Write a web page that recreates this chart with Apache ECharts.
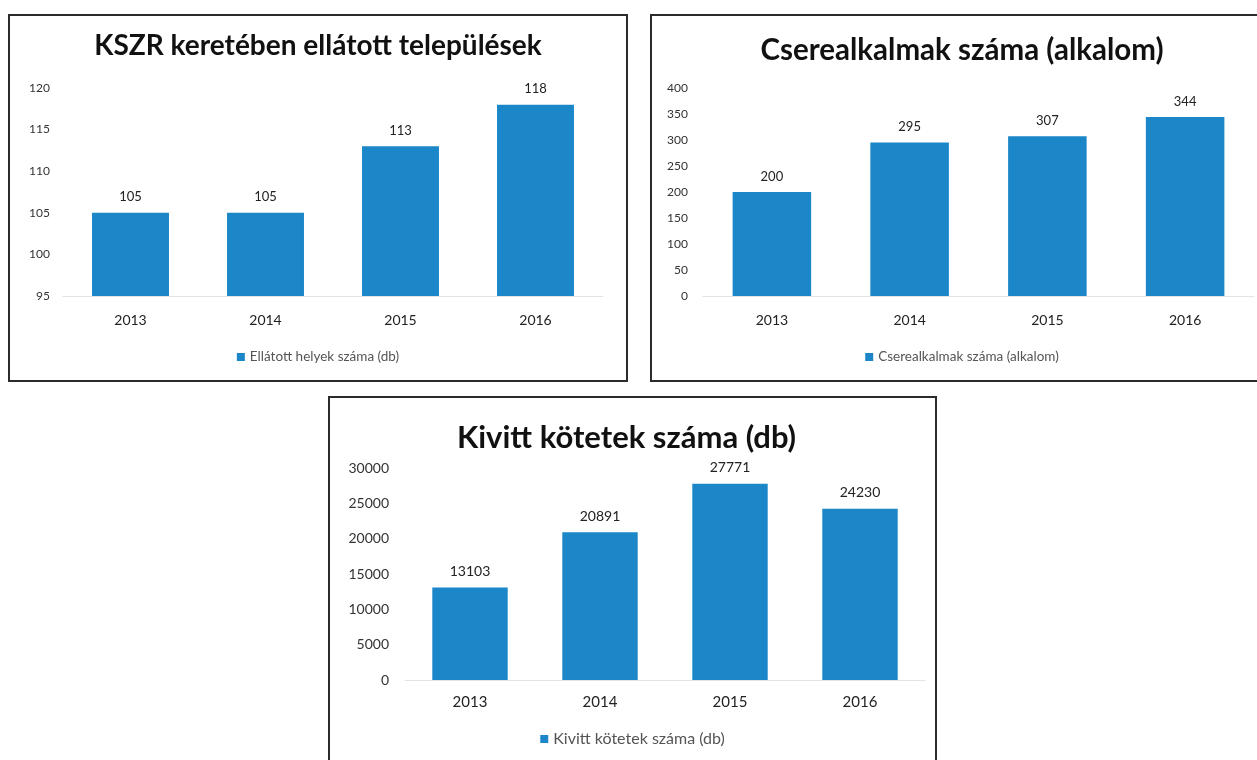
<!DOCTYPE html>
<html>
<head>
<meta charset="utf-8">
<script src="https://cdn.jsdelivr.net/npm/echarts@6/dist/echarts.min.js"></script>
<style>
  html, body { margin: 0; padding: 0; background: #fff; overflow: hidden; width: 1257px; height: 760px; }
  .box { position: absolute; border: 2px solid #2b2b2b; box-sizing: border-box; background: #fff; }
  .pic { position: absolute; left: 0; top: 0; width: 100%; height: 100%; }
</style>
</head>
<body>
<div class="box" style="left:8px;top:14px;width:620px;height:368px"><div id="c1" class="pic"></div></div>
<div class="box" style="left:650px;top:14px;width:624px;height:368px"><div id="c2" class="pic"></div></div>
<div class="box" style="left:328px;top:396px;width:609px;height:384px"><div id="c3" class="pic"></div></div>
<script>
// data
const years = ['2013', '2014', '2015', '2016']

const telepulesek = [105, 105, 113, 118]
const csere = [200, 295, 307, 344]
const kotetek = [13103, 20891, 27771, 24230]

const axis1 = { min: 95, max: 120, interval: 5 }
const axis2 = { min: 0, max: 400, interval: 50 }
const axis3 = { min: 0, max: 30000, interval: 5000 }

const BLUE = '#1b87c9'
const FONT = 'Lato'

function makeChart (id, title, name, values, ax, lay) {
  const chart = echarts.init(document.getElementById(id))
  chart.setOption({
    animation: false,
    title: {
      text: title,
      left: lay.titleLeft || 'center',
      top: lay.titleTop,
      textStyle: { fontFamily: FONT, fontWeight: 'bold', fontSize: lay.titleSize, color: '#111' }
    },
    legend: {
      data: [name],
      left: 'center',
      top: lay.legendTop,
      icon: 'rect',
      itemWidth: 8,
      itemHeight: 8,
      itemGap: 4,
      textStyle: { fontFamily: FONT, fontSize: lay.legendSize, color: '#555' }
    },
    grid: lay.grid,
    xAxis: {
      type: 'category',
      data: years,
      axisTick: { show: false },
      axisLine: { lineStyle: { color: '#e3e3e3', width: 1 } },
      axisLabel: { fontFamily: FONT, fontSize: lay.xSize, color: '#222', margin: lay.xMargin }
    },
    yAxis: {
      type: 'value',
      min: ax.min,
      max: ax.max,
      interval: ax.interval,
      axisLine: { show: false },
      axisTick: { show: false },
      splitLine: { show: false },
      axisLabel: {
        fontFamily: FONT,
        fontSize: lay.ySize,
        color: '#333',
        margin: lay.yMargin,
        formatter: function (v) { return String(v) }
      }
    },
    series: [{
      name: name,
      type: 'bar',
      data: values,
      barWidth: lay.barWidth,
      itemStyle: { color: BLUE },
      label: { show: true, position: 'top', distance: 9, fontFamily: FONT, fontSize: lay.dataSize, color: '#222' }
    }]
  })
}

makeChart('c1', 'KSZR keretében ellátott települések', 'Ellátott helyek száma (db)', telepulesek, axis1, {
  titleTop: 11, titleSize: 28, legendTop: 329, legendSize: 13.5, barWidth: '57%', yMargin: 13,
  xSize: 14, xMargin: 17, ySize: 12, dataSize: 13,
  grid: { left: 53, right: 23, top: 72, bottom: 84 }
})
makeChart('c2', 'Cserealkalmak száma (alkalom)', 'Cserealkalmak száma (alkalom)', csere, axis2, {
  titleTop: 14, titleSize: 29.5, legendTop: 329, legendSize: 13.5, barWidth: '57%', yMargin: 15,
  xSize: 14, xMargin: 17, ySize: 12, dataSize: 13,
  grid: { left: 51, right: 18, top: 72, bottom: 84 }
})
makeChart('c3', 'Kivitt kötetek száma (db)', 'Kivitt kötetek száma (db)', kotetek, axis3, {
  titleTop: 19, titleSize: 31, titleLeft: 122, legendTop: 328, legendSize: 16, barWidth: '58%', yMargin: 16,
  xSize: 15, xMargin: 15, ySize: 14, dataSize: 14,
  grid: { left: 75, right: 10, top: 70, bottom: 98 }
})
</script>
</body>
</html>
